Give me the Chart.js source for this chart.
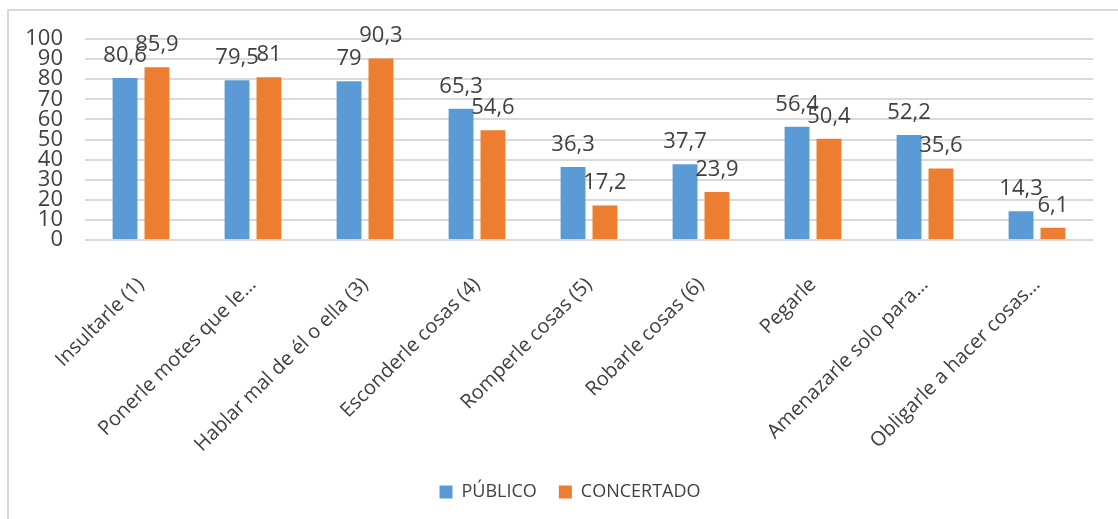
<!DOCTYPE html>
<html>
<head>
<meta charset="utf-8">
<script src="https://cdn.jsdelivr.net/npm/chart.js@4.4.1/dist/chart.umd.min.js"></script>
<style>
  html, body { margin: 0; padding: 0; background: #ffffff; }
  #wrap { position: absolute; left: 0; top: 0; width: 1118px; height: 519px; }
</style>
</head>
<body>
<div id="wrap"><canvas id="c" width="1118" height="519"></canvas></div>
<script>
// Categories and series
const categories = [
  'Insultarle (1)',
  'Ponerle motes que le…',
  'Hablar mal de él o ella (3)',
  'Esconderle cosas (4)',
  'Romperle cosas (5)',
  'Robarle cosas (6)',
  'Pegarle',
  'Amenazarle solo para…',
  'Obligarle a hacer cosas…'
];
const publico    = [80.6, 79.5, 79, 65.3, 36.3, 37.7, 56.4, 52.2, 14.3];
const concertado = [85.9, 81, 90.3, 54.6, 17.2, 23.9, 50.4, 35.6, 6.1];
const seriesNames = ['PÚBLICO', 'CONCERTADO'];
const yMin = 0, yMax = 100, yStep = 10;

const FONT = '"Open Sans", "Noto Sans", sans-serif';
const TEXT = '#404040';

// Light frame along the top and left edges
const framePlugin = {
  id: 'frame',
  beforeDraw(chart) {
    const ctx = chart.ctx;
    ctx.save();
    ctx.fillStyle = '#ffffff';
    ctx.fillRect(0, 0, chart.width, chart.height);
    ctx.strokeStyle = '#d9d9d9';
    ctx.lineWidth = 2;
    ctx.beginPath();
    ctx.moveTo(8, chart.height);
    ctx.lineTo(8, 10);
    ctx.lineTo(chart.width, 10);
    ctx.stroke();
    ctx.restore();
  }
};

// Value labels above each bar, decimal comma
const valueLabels = {
  id: 'valueLabels',
  afterDatasetsDraw(chart) {
    const ctx = chart.ctx;
    ctx.save();
    ctx.font = '22px ' + FONT;
    ctx.fillStyle = TEXT;
    ctx.textAlign = 'center';
    ctx.textBaseline = 'alphabetic';
    chart.data.datasets.forEach((ds, di) => {
      chart.getDatasetMeta(di).data.forEach((bar, i) => {
        const txt = String(ds.data[i]).replace('.', ',');
        ctx.fillText(txt, bar.x, bar.y - 16);
      });
    });
    ctx.restore();
  }
};

new Chart(document.getElementById('c'), {
  type: 'bar',
  data: {
    labels: categories,
    datasets: [
      { label: seriesNames[0], data: publico, backgroundColor: '#5b9bd5' },
      { label: seriesNames[1], data: concertado, backgroundColor: '#ed7d31' }
    ]
  },
  options: {
    responsive: false,
    animation: false,
    devicePixelRatio: 1,
    categoryPercentage: 0.57,
    barPercentage: 0.78,
    layout: { padding: { top: 39, right: 0, bottom: 8, left: 22 } },
    plugins: {
      legend: {
        position: 'bottom',
        labels: {
          font: { family: FONT, size: 18 },
          color: TEXT,
          boxWidth: 13,
          boxHeight: 13,
          padding: 22
        }
      },
      tooltip: { enabled: false }
    },
    scales: {
      x: {
        grid: { display: false },
        border: { display: false },
        ticks: {
          autoSkip: false,
          maxRotation: 45,
          minRotation: 45,
          padding: 25,
          color: TEXT,
          font: { family: FONT, size: 20 }
        },
        afterFit(s) { s.height = 221; }
      },
      y: {
        min: yMin,
        max: yMax,
        grid: { color: '#d9d9d9', lineWidth: 2, drawTicks: false },
        border: { display: false },
        ticks: {
          stepSize: yStep,
          autoSkip: false,
          padding: 22,
          color: TEXT,
          font: { family: FONT, size: 22 }
        },
        afterFit(s) { s.width = 63; }
      },
      // empty spacer on the right so the plot ends short of the edge
      yRight: {
        position: 'right',
        display: true,
        grid: { display: false, drawTicks: false },
        border: { display: false },
        ticks: { display: false },
        afterFit(s) { s.width = 25; }
      }
    }
  },
  plugins: [framePlugin, valueLabels]
});
</script>
</body>
</html>
